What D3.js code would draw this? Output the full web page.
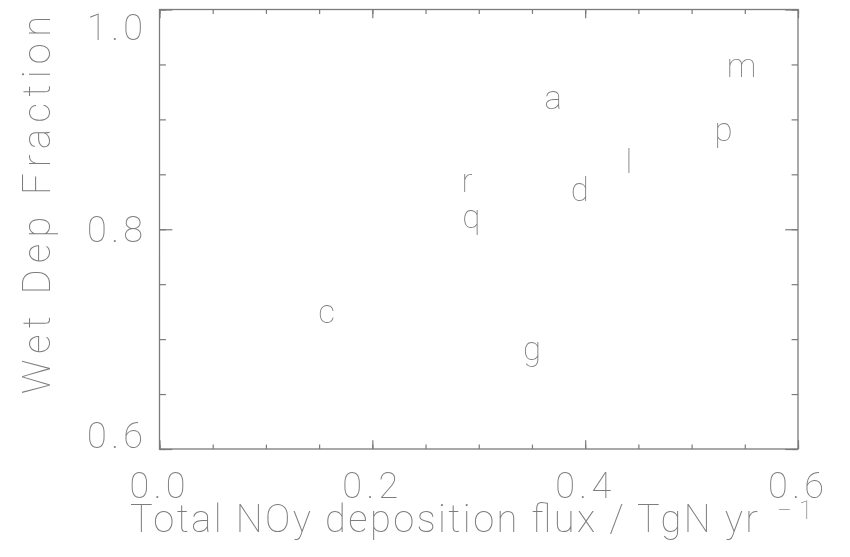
<!DOCTYPE html>
<html>
<head>
<meta charset="utf-8">
<script src="https://cdn.jsdelivr.net/npm/d3@7"></script>
<style>
  body { margin: 0; background: #fff; }
  svg { opacity: 0.995; will-change: transform; }
  svg text { font-family: "Roboto", "DejaVu Sans", sans-serif; font-weight: 100; fill: #7c7c7c; }
</style>
</head>
<body>
<svg id="chart" width="850" height="557"></svg>
<script>
// model letters and their (flux, wet fraction) values
var labels = ["a", "m", "p", "l", "r", "d", "q", "c", "g"];
var flux = [0.370, 0.547, 0.530, 0.441, 0.289, 0.395, 0.293, 0.157, 0.350];
var wetFrac = [0.909, 0.939, 0.880, 0.851, 0.834, 0.826, 0.801, 0.715, 0.681];

var xTicks = [0.0, 0.2, 0.4, 0.6];
var xTickLabels = ["0.0", "0.2", "0.4", "0.6"];
var yTicks = [0.6, 0.8, 1.0];
var yTickLabels = ["0.6", "0.8", "1.0"];

(function() {
    var svg = d3.select("#chart");
    var m = { left: 159.5, right: 798, top: 9.5, bottom: 449 };
    var axisColor = "#7a7a7a";

    var x = d3.scaleLinear().domain([0, 0.6]).range([m.left, m.right]);
    var y = d3.scaleLinear().domain([0.6, 1.0]).range([m.bottom, m.top]);

    var xMinor = d3.range(0, 0.6001, 0.05);
    var yMinor = d3.range(0.6, 1.0001, 0.05);

    // ticks all round, pointing inward
    function drawAxis(axis, tx, ty) {
        var g = svg.append("g")
            .attr("transform", "translate(" + tx + "," + ty + ")")
            .call(axis);
        g.select(".domain").remove();
        g.selectAll("text").remove();
        g.selectAll("line").attr("stroke", axisColor).attr("stroke-width", 1.2);
    }

    drawAxis(d3.axisBottom(x).tickValues(xMinor).tickSizeInner(-4.4), 0, m.bottom);
    drawAxis(d3.axisBottom(x).tickValues(xTicks).tickSizeInner(-8.8), 0, m.bottom);
    drawAxis(d3.axisTop(x).tickValues(xMinor).tickSizeInner(-4.4), 0, m.top);
    drawAxis(d3.axisTop(x).tickValues(xTicks).tickSizeInner(-8.8), 0, m.top);
    drawAxis(d3.axisLeft(y).tickValues(yMinor).tickSizeInner(-6.4), m.left, 0);
    drawAxis(d3.axisLeft(y).tickValues(yTicks).tickSizeInner(-12.8), m.left, 0);
    drawAxis(d3.axisRight(y).tickValues(yMinor).tickSizeInner(-6.4), m.right, 0);
    drawAxis(d3.axisRight(y).tickValues(yTicks).tickSizeInner(-12.8), m.right, 0);

    svg.append("rect")
        .attr("x", m.left).attr("y", m.top)
        .attr("width", m.right - m.left).attr("height", m.bottom - m.top)
        .attr("fill", "none")
        .attr("stroke", axisColor)
        .attr("stroke-width", 1.3);

    // tick labels
    svg.selectAll(".xl").data(xTicks).enter().append("text")
        .attr("class", "xl")
        .attr("x", function(d) { return x(d) - 2; })
        .attr("y", 498)
        .attr("text-anchor", "middle")
        .attr("textLength", 56)
        .attr("lengthAdjust", "spacing")
        .style("font-size", "36px")
        .text(function(d, i) { return xTickLabels[i]; });

    svg.selectAll(".yl").data(yTicks).enter().append("text")
        .attr("class", "yl")
        .attr("x", 143)
        .attr("y", function(d) {
            var c = Math.max(26.5, Math.min(434.5, y(d)));
            return c + 13;
        })
        .attr("text-anchor", "end")
        .attr("textLength", 56)
        .attr("lengthAdjust", "spacing")
        .style("font-size", "36px")
        .text(function(d, i) { return yTickLabels[i]; });

    // axis titles
    svg.append("text")
        .attr("x", 130).attr("y", 532)
        .attr("textLength", 628)
        .attr("lengthAdjust", "spacing")
        .style("font-size", "38px")
        .text("Total NOy deposition flux / TgN yr");
    svg.append("text")
        .attr("x", 777).attr("y", 519)
        .style("font-size", "26px")
        .style("letter-spacing", "7px")
        .text("\u22121");

    svg.append("text")
        .attr("transform", "translate(50,205) rotate(-90)")
        .attr("text-anchor", "middle")
        .attr("textLength", 378)
        .attr("lengthAdjust", "spacing")
        .style("font-size", "38px")
        .text("Wet Dep Fraction");

    // letters as markers
    svg.selectAll(".pt").data(labels).enter().append("text")
        .attr("class", "pt")
        .attr("x", function(d, i) { return x(flux[i]); })
        .attr("y", function(d, i) { return y(wetFrac[i]); })
        .attr("text-anchor", "middle")
        .style("font-size", "33px")
        .text(function(d) { return d; });
})();
</script>
</body>
</html>
